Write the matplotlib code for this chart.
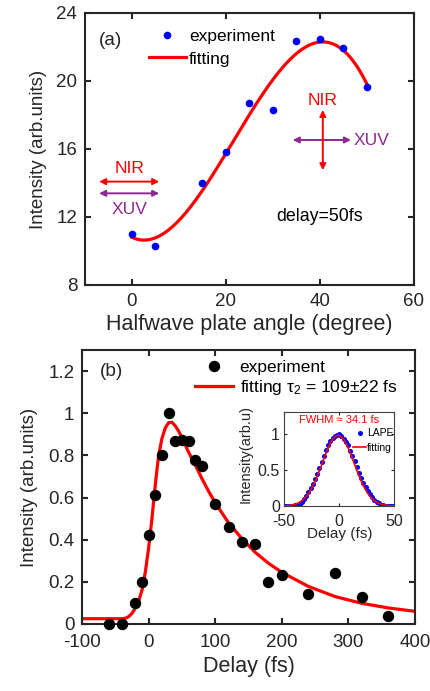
import numpy as np
import matplotlib.pyplot as plt
from matplotlib.lines import Line2D

plt.rcParams['font.family'] = ['Liberation Sans', 'DejaVu Sans']
plt.rcParams['mathtext.fontset'] = 'custom'
plt.rcParams['mathtext.rm'] = 'Liberation Sans'
plt.rcParams['mathtext.it'] = 'Liberation Sans'
plt.rcParams['axes.unicode_minus'] = False

# panel (a): intensity vs halfwave plate angle
angle = [0, 5, 15, 20, 25, 30, 35, 40, 45, 50]
angle_int = [11.0, 10.3, 14.0, 15.8, 18.7, 18.3, 22.35, 22.47, 21.96, 19.63]

# panel (b): intensity vs delay
delay = [-60, -40, -20, -10, 0, 10, 20, 30, 40, 50, 60, 70, 80, 100, 120, 140,
         160, 180, 200, 240, 280, 320, 360]
delay_int = [0.0, 0.0, 0.10, 0.20, 0.42, 0.61, 0.80, 1.0, 0.87, 0.875, 0.87,
             0.78, 0.75, 0.57, 0.46, 0.39, 0.38, 0.20, 0.23, 0.14, 0.24, 0.13, 0.04]
fit_delay = [-100, -40, -35, -30, -25, -20, -15, -10, -5, 0, 5, 10, 15, 20, 25,
             30, 35, 40, 45, 50, 60, 70, 80, 90, 100, 120, 140, 160, 180, 200,
             240, 280, 320, 360, 400]
fit_int = [0.025, 0.025, 0.027, 0.035, 0.05, 0.075, 0.108, 0.16, 0.245, 0.36,
           0.50, 0.66, 0.80, 0.88, 0.93, 0.955, 0.957, 0.94, 0.915, 0.885, 0.815,
           0.755, 0.69, 0.63, 0.575, 0.48, 0.405, 0.34, 0.288, 0.245, 0.178,
           0.13, 0.098, 0.076, 0.06]

# inset: LAPE cross-correlation
lape_t = list(range(-50, 51, 2))
lape_int = [0.0, 0.0, 0.0, 0.0, 0.005, 0.01, 0.015, 0.03, 0.06, 0.10, 0.14, 0.19,
            0.25, 0.31, 0.38, 0.45, 0.53, 0.61, 0.70, 0.78, 0.85, 0.90, 0.94, 0.97,
            0.99, 1.0, 0.97, 0.93, 0.89, 0.84, 0.77, 0.70, 0.62, 0.54, 0.46, 0.39,
            0.32, 0.26, 0.21, 0.16, 0.12, 0.085, 0.055, 0.035, 0.02, 0.01, 0.005,
            0.0, 0.0, 0.0, 0.0]
lape_fit_t = list(range(-49, 50, 2))
lape_fit = [0.004, 0.006, 0.010, 0.015, 0.022, 0.032, 0.045, 0.063, 0.086, 0.115,
            0.152, 0.196, 0.249, 0.310, 0.378, 0.454, 0.533, 0.615, 0.696, 0.773,
            0.842, 0.900, 0.943, 0.971, 0.980, 0.971, 0.943, 0.900, 0.842, 0.773,
            0.696, 0.615, 0.533, 0.454, 0.378, 0.310, 0.249, 0.196, 0.152, 0.115,
            0.086, 0.063, 0.045, 0.032, 0.022, 0.015, 0.010, 0.006, 0.004, 0.002]

dark = '#262626'

def style(ax, lw=1.5, size=13.5, length=4, xpad=5.5):
    for s in ax.spines.values():
        s.set_linewidth(lw)
        s.set_color(dark)
    ax.tick_params(direction='in', top=True, right=True, width=lw, length=length,
                   labelsize=size, colors=dark, pad=5.5)
    ax.tick_params(axis='x', pad=xpad)

fig = plt.figure(figsize=(4.31, 6.91), dpi=100)

# ---- panel (a)
ax1 = fig.add_axes([0.1972, 0.5876, 0.7633, 0.3936])
coef = np.polyfit(angle, angle_int, 3)
xs = np.linspace(0, 50, 200)
ax1.plot(xs, np.polyval(coef, xs), color='red', lw=2.3)
ax1.plot(angle, angle_int, 'o', color='blue', ms=4.5, ls='none')
ax1.set_xlim(-10, 60)
ax1.set_ylim(8, 24)
ax1.set_xticks([0, 20, 40, 60])
ax1.set_yticks([8, 12, 16, 20, 24])
style(ax1)
ax1.set_xlabel('Halfwave plate angle (degree)', fontsize=15.5, color=dark, labelpad=3)
ax1.set_ylabel('Intensity (arb.units)', fontsize=13.5, color=dark, labelpad=7)
h1 = [Line2D([], [], marker='o', color='blue', ls='none', ms=4.5),
      Line2D([], [], color='red', lw=2.3)]
ax1.legend(h1, ['experiment', 'fitting'], loc='upper left', bbox_to_anchor=(0.195, 0.94),
           frameon=False, fontsize=12.5, handlelength=2.1, handletextpad=0.2,
           labelspacing=0.4, borderaxespad=0, borderpad=0)
ax1.text(-7.0, 22.4, '(a)', fontsize=13.7, color=dark, va='center')
ax1.text(30.6, 12.0, 'delay=50fs', fontsize=12.8, color='black', va='center')

purple = '#8b2a8f'
arw = dict(arrowstyle='<|-|>', mutation_scale=9, lw=1.4, shrinkA=0, shrinkB=0)
ax1.annotate('', xy=(-7.0, 14.08), xytext=(5.8, 14.08), arrowprops=dict(arw, color='red'))
ax1.annotate('', xy=(-7.0, 13.39), xytext=(5.8, 13.39), arrowprops=dict(arw, color=purple))
ax1.text(-0.6, 14.85, 'NIR', color='red', fontsize=12.5, ha='center', va='center')
ax1.text(-0.6, 12.45, 'XUV', color=purple, fontsize=12.5, ha='center', va='center')
ax1.annotate('', xy=(34.2, 16.53), xytext=(46.6, 16.53), arrowprops=dict(arw, color=purple))
ax1.annotate('', xy=(40.6, 18.3), xytext=(40.6, 14.75), arrowprops=dict(arw, color='red'))
ax1.text(40.6, 18.88, 'NIR', color='red', fontsize=12.5, ha='center', va='center')
ax1.text(47.2, 16.5, 'XUV', color=purple, fontsize=12.5, ha='left', va='center')

# ---- panel (b)
ax2 = fig.add_axes([0.1903, 0.0970, 0.7726, 0.3965])
ax2.plot(fit_delay, fit_int, color='red', lw=2.3)
ax2.plot(delay, delay_int, 'o', color='black', ms=7.2, ls='none', clip_on=False, zorder=3)
ax2.set_xlim(-100, 400)
ax2.set_ylim(0, 1.3)
ax2.set_xticks(range(-100, 401, 100))
ax2.set_yticks([0, 0.2, 0.4, 0.6, 0.8, 1.0, 1.2])
ax2.set_yticklabels(['0', '0.2', '0.4', '0.6', '0.8', '1', '1.2'])
style(ax2, xpad=7)
ax2.set_xlabel('Delay (fs)', fontsize=15.5, color=dark, labelpad=4)
ax2.set_ylabel('Intensity (arb.units)', fontsize=13.5, color=dark, labelpad=7)
h2 = [Line2D([], [], marker='o', color='black', ls='none', ms=7.2),
      Line2D([], [], color='red', lw=2.3)]
ax2.legend(h2, ['experiment', r'fitting $\tau_2$ = 109$\pm$22 fs'], loc='upper left',
           bbox_to_anchor=(0.34, 0.965), frameon=False, fontsize=12.5, handlelength=2.2,
           handletextpad=0.35, labelspacing=0.2, borderaxespad=0, borderpad=0)
ax2.text(-73, 1.2, '(b)', fontsize=13.7, color=dark, va='center')

# ---- inset
ax3 = fig.add_axes([0.6596, 0.2677, 0.2552, 0.1356])
ax3.plot(lape_t, lape_int, 'o', color='blue', ms=2.6, ls='none')
ax3.plot(lape_fit_t, lape_fit, color='red', lw=1.2)
ax3.set_xlim(-50, 50)
ax3.set_ylim(0, 1.3)
ax3.set_xticks([-50, 0, 50])
ax3.set_yticks([0, 0.5, 1])
ax3.set_yticklabels(['0', '0.5', '1'])
for s in ax3.spines.values():
    s.set_linewidth(0.8)
    s.set_color('#404040')
ax3.tick_params(direction='in', top=True, right=True, width=0.8, length=2.5,
                labelsize=11.5, colors=dark, pad=3)
ax3.tick_params(axis='x', pad=5.5)
ax3.set_xlabel('Delay (fs)', fontsize=11, color=dark, labelpad=-1)
ax3.set_ylabel('Intensity(arb.u)', fontsize=10.5, color=dark, labelpad=1)
ax3.yaxis.set_label_coords(-0.29, 0.55)
ax3.text(0, 1.19, 'FWHM ≈ 34.1 fs', color='red', fontsize=8, ha='center', va='center')
h3 = [Line2D([], [], marker='o', color='blue', ls='none', ms=2.6),
      Line2D([], [], color='red', lw=1.2)]
ax3.legend(h3, ['LAPE', 'fitting'], loc='upper right', bbox_to_anchor=(1.0, 0.84),
           frameon=False, fontsize=7.5, handlelength=1.2, handletextpad=0.1,
           labelspacing=0.4, borderaxespad=0, borderpad=0.1)

fig.savefig('out.png', dpi=100)
